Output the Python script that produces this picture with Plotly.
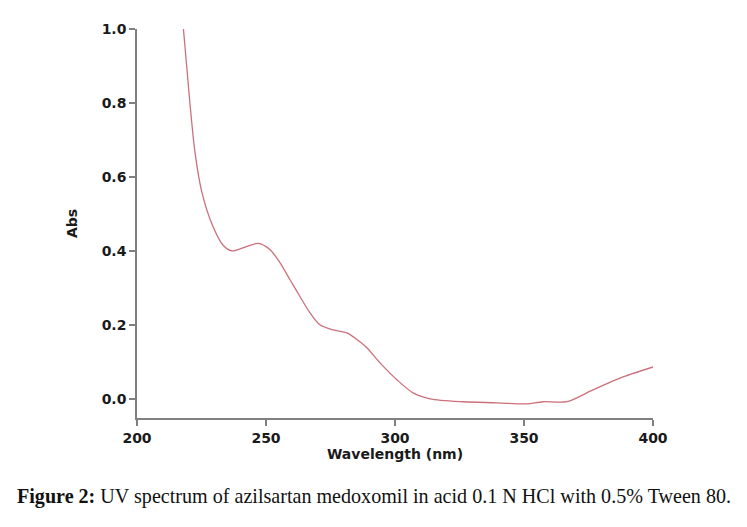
import plotly.graph_objects as go

wavelength = [218, 220.5, 222.5, 225.2, 229.5, 233.3, 236.8, 241, 246.9, 251.6, 255.4, 259.3,
              263.2, 267.1, 270.9, 276, 281.4, 286.4, 289.1, 294.2, 300.8, 307, 313.6,
              326.4, 339.5, 349.6, 352.3, 357.4, 366.7, 376.7, 388.4, 400]
absorbance = [1.0, 0.80, 0.665, 0.557, 0.465, 0.416, 0.40, 0.408, 0.42, 0.403, 0.368, 0.322,
              0.276, 0.232, 0.20, 0.186, 0.178, 0.154, 0.138, 0.097, 0.051, 0.016, 0.0,
              -0.008, -0.011, -0.014, -0.013, -0.008, -0.008, 0.024, 0.059, 0.086]

x_ticks = [200, 250, 300, 350, 400]
y_ticks = [0.0, 0.2, 0.4, 0.6, 0.8, 1.0]
y_tick_labels = ["0.0", "0.2", "0.4", "0.6", "0.8", "1.0"]

caption = "<b>Figure 2:</b> UV spectrum of azilsartan medoxomil in acid 0.1 N HCl with 0.5% Tween 80."

fig = go.Figure()
fig.add_trace(go.Scatter(
    x=wavelength, y=absorbance, mode="lines",
    line=dict(color="#cc707a", width=1.3, shape="spline", smoothing=0.8),
    showlegend=False, hoverinfo="skip"))

axis_font = dict(family="DejaVu Sans", size=14, color="#1a1a1a", weight="bold")

fig.update_layout(
    width=747, height=527,
    margin=dict(l=129, r=102, t=21, b=117),
    paper_bgcolor="white", plot_bgcolor="white",
    xaxis=dict(range=[200, 400], tickvals=x_ticks, ticks="outside", ticklen=6,
               tickcolor="#808080", tickwidth=1.5, showline=True, linecolor="#808080",
               linewidth=1.5, showgrid=False, zeroline=False, tickfont=axis_font,
               title=dict(text="Wavelength (nm)", font=axis_font, standoff=2)),
    yaxis=dict(range=[-0.052, 1.0], tickvals=y_ticks, ticktext=y_tick_labels, ticks="outside",
               ticklen=6, tickcolor="#808080", tickwidth=1.5, showline=True,
               linecolor="#808080", linewidth=1.5, showgrid=False, zeroline=False,
               tickfont=axis_font,
               title=dict(text="Abs", font=axis_font, standoff=21)),
    annotations=[dict(text=caption, xref="paper", yref="paper", x=0.459, y=-0.203,
                      xanchor="center", yanchor="middle", showarrow=False,
                      font=dict(family="Liberation Serif, Times New Roman", size=20.1,
                                color="#111111"))],
)

fig.write_html("out.html")
